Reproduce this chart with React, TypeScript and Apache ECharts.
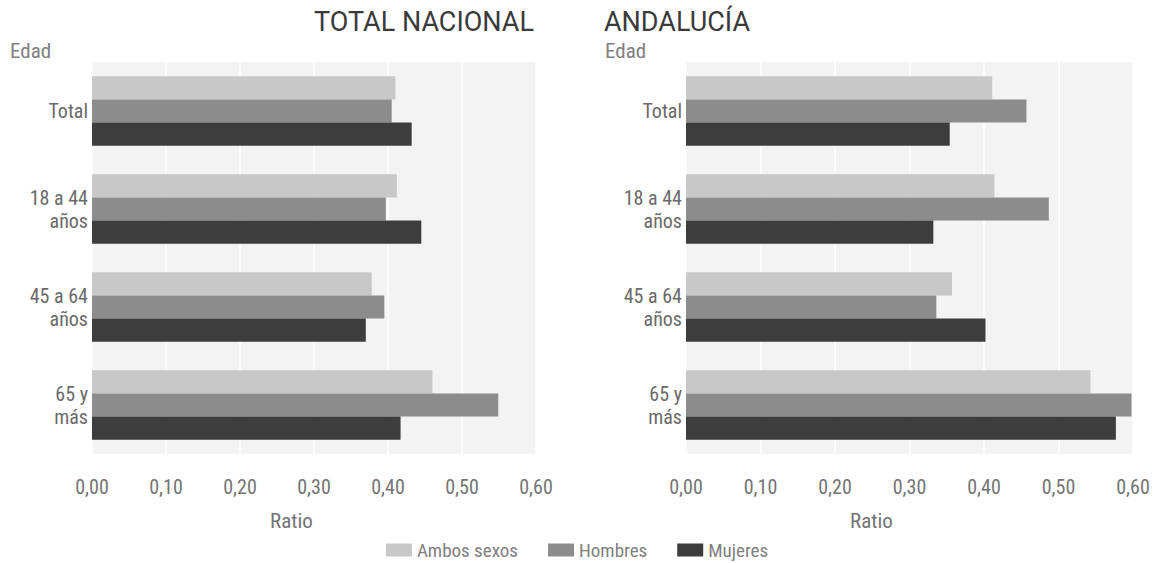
import React, { useEffect, useRef } from "react";
import * as echarts from "echarts";

const categories = ["Total", "18 a 44\naños", "45 a 64\naños", "65 y\nmás"];
const seriesNames = ["Ambos sexos", "Hombres", "Mujeres"];
const nacionalAmbos = [0.41, 0.412, 0.378, 0.46];
const nacionalHombres = [0.405, 0.397, 0.395, 0.549];
const nacionalMujeres = [0.432, 0.445, 0.37, 0.417];
const andaluciaAmbos = [0.411, 0.414, 0.357, 0.543];
const andaluciaHombres = [0.457, 0.487, 0.336, 0.598];
const andaluciaMujeres = [0.354, 0.332, 0.402, 0.577];
const xTicks = [0, 0.1, 0.2, 0.3, 0.4, 0.5, 0.6];
const colors = ["#c8c8c8", "#8c8c8c", "#3d3d3d"];

const FONT = "'Liberation Sans Narrow', 'Roboto Condensed', Roboto, sans-serif";
const TITLE_FONT = "Roboto, 'Liberation Sans', sans-serif";

export default function App() {
  const ref = useRef<HTMLDivElement>(null);
  useEffect(() => {
    if (!ref.current) return;
    const chart = echarts.init(ref.current, undefined, { renderer: "svg" });
    const grids = [
      { left: 92, top: 62, width: 444, height: 392 },
      { left: 686, top: 62, width: 447, height: 392 },
    ];
    const xAxis = grids.map((_, i) => ({
      type: "value",
      gridIndex: i,
      min: xTicks[0],
      max: xTicks[xTicks.length - 1],
      interval: 0.1,
      axisLine: { show: false },
      axisTick: { show: false },
      axisLabel: {
        margin: 23,
        fontSize: 20,
        fontFamily: FONT,
        color: "#747474",
        formatter: (v: number) => v.toFixed(2).replace(".", ","),
      },
      splitLine: { show: true, lineStyle: { color: "#ffffff", width: 1.5 } },
      splitArea: { show: false },
    }));
    const yAxis = grids.map((_, i) => ({
      type: "category",
      gridIndex: i,
      data: categories,
      inverse: true,
      axisLine: { show: false },
      axisTick: { show: false },
      axisLabel: {
        margin: 4,
        fontSize: 20,
        lineHeight: 23,
        fontFamily: FONT,
        color: "#6a6a6a",
        align: "right",
      },
    }));
    const dataSets = [
      [nacionalAmbos, nacionalHombres, nacionalMujeres],
      [andaluciaAmbos, andaluciaHombres, andaluciaMujeres],
    ];
    const series: any[] = [];
    dataSets.forEach((set, gi) => {
      set.forEach((vals, si) => {
        series.push({
          type: "bar",
          name: seriesNames[si],
          xAxisIndex: gi,
          yAxisIndex: gi,
          data: vals,
          barGap: "0%",
          barCategoryGap: "29%",
          itemStyle: { color: colors[si] },
          emphasis: { disabled: true },
        });
      });
    });
    const textTitle = (text: string, left: number, top: number, size: number, color: string, family: string) => ({
      text,
      left,
      top,
      padding: 0,
      textStyle: { fontSize: size, fontWeight: "normal", color, fontFamily: family },
    });
    chart.setOption({
      animation: false,
      color: colors,
      title: [
        textTitle("TOTAL NACIONAL", 314, 8, 27, "#3a3a3a", TITLE_FONT),
        textTitle("ANDALUCÍA", 604, 8, 27, "#3a3a3a", TITLE_FONT),
        textTitle("Edad", 10, 40, 21, "#808080", FONT),
        textTitle("Edad", 605, 40, 21, "#808080", FONT),
        textTitle("Ratio", 270, 510, 21, "#747474", FONT),
        textTitle("Ratio", 850, 510, 21, "#747474", FONT),
      ],
      graphic: grids.map((g) => ({
        type: "rect",
        shape: { x: g.left, y: g.top, width: g.width, height: g.height },
        style: { fill: "#f3f3f3" },
        z: -10,
        silent: true,
      })),
      legend: {
        data: seriesNames,
        left: "center",
        top: 540,
        padding: 0,
        itemWidth: 26,
        itemHeight: 13,
        itemGap: 30,
        icon: "rect",
        textStyle: { fontSize: 19, lineHeight: 20, color: "#808080", fontFamily: FONT },
      },
      grid: grids,
      xAxis,
      yAxis,
      series,
    });
    return () => chart.dispose();
  }, []);
  return <div ref={ref} style={{ width: 1154, height: 563, position: "absolute", left: 0, top: 0 }} />;
}
